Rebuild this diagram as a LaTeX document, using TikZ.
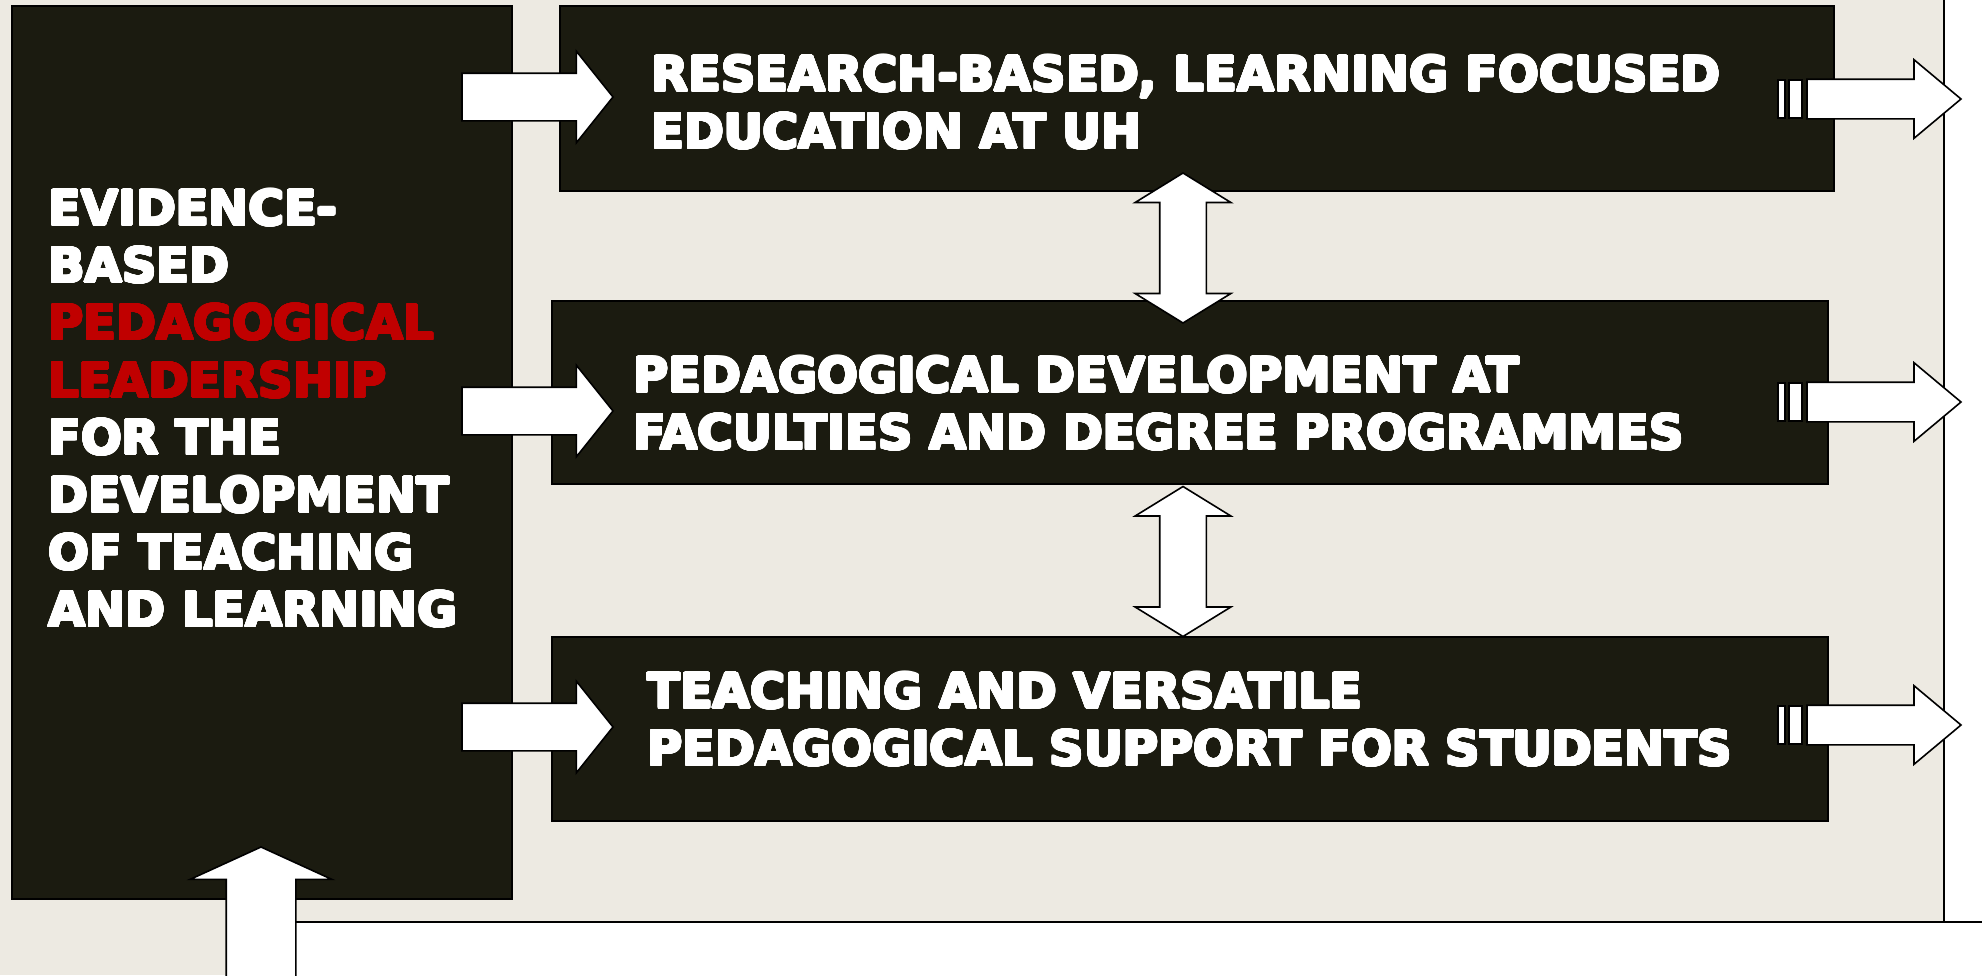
\documentclass[tikz,border=0pt]{standalone}
\usepackage{fontspec}
\usepackage{contour}
\setmainfont{DejaVu Sans}
\usetikzlibrary{shapes.arrows,positioning}

\definecolor{paper}{RGB}{237,234,226}
\definecolor{ink}{RGB}{27,27,16}
\definecolor{crimson}{RGB}{192,0,0}

% heavier lettering: bold face with a thin contour of its own colour
\contourlength{1.1pt}
\contournumber{24}
\newcommand\heavy[2][white]{\textcolor{#1}{\contour{#1}{#2}}}

\begin{document}
\begin{tikzpicture}[x=1pt,y=-1pt,
  panel/.style={rectangle,draw=black,line width=1.5pt,fill=ink,inner sep=0pt},
  boxtext/.style={anchor=north west,inner sep=0pt,align=left,text=white,
    font=\bfseries\fontsize{48}{57.4}\selectfont},
  blockarrow/.style={draw=black,fill=white,line width=1.6pt,inner sep=0pt,outer sep=0pt},
  feed/.style={blockarrow,single arrow,inner ysep=23pt,minimum height=151pt,
    single arrow head extend=22pt,single arrow tip angle=102.7,anchor=tip},
  outflow/.style={blockarrow,single arrow,inner ysep=19pt,minimum height=154pt,
    single arrow head extend=19.5pt,single arrow tip angle=79.8,anchor=tip},
  link/.style={blockarrow,double arrow,rotate=90,inner ysep=22.5pt,minimum height=150pt,
    double arrow head extend=24.5pt,double arrow tip angle=116.7},
  rise/.style={blockarrow,single arrow,rotate=90,inner ysep=34pt,minimum height=142pt,
    single arrow head extend=36pt,single arrow tip angle=130.9,anchor=tip},
  sheet/.style={draw=black,line width=1.5pt,fill=white},
  bar/.style={draw=black,line width=1.2pt,fill=white}
]
\useasboundingbox (0,0) rectangle (1982,975);
\fill[paper] (0,0) rectangle (1982,975);

% white margin along the right and the bottom
\draw[sheet] (1944,-5) rectangle (1990,922);
\draw[sheet] (295,922) rectangle (1990,985);

% the boxes
\node[panel,minimum width=500pt,minimum height=893pt] (lead) at (262,452.5) {};
\node[panel,minimum width=1274pt,minimum height=185pt] (research) at (1197,98.5) {};
\node[panel,minimum width=1276pt,minimum height=183pt] (faculty) at (1190,392.5) {};
\node[panel,minimum width=1276pt,minimum height=184pt] (support) at (1190,729) {};

\node[boxtext] (leadtext) at ([shift={(37,184)}]lead.north west)
  {\heavy{EVIDENCE-}\\\heavy{BASED}\\\heavy[crimson]{PEDAGOGICAL}\\\heavy[crimson]{LEADERSHIP}\\
   \heavy{FOR THE}\\\heavy{DEVELOPMENT}\\\heavy{OF TEACHING}\\\heavy{AND LEARNING}};
\node[boxtext] (researchtext) at ([shift={(92,50)}]research.north west)
  {\heavy{RESEARCH-BASED, LEARNING FOCUSED}\\\heavy{EDUCATION AT UH}};
\node[boxtext] (facultytext) at ([shift={(82,56)}]faculty.north west)
  {\heavy{PEDAGOGICAL DEVELOPMENT AT}\\\heavy{FACULTIES AND DEGREE PROGRAMMES}};
\node[boxtext] (supporttext) at ([shift={(96,36)}]support.north west)
  {\heavy{TEACHING AND VERSATILE}\\\heavy{PEDAGOGICAL SUPPORT FOR STUDENTS}};

% arrows into and out of the three boxes
\foreach \y [count=\i] in {97,411,727}
  \node[feed] (in\i) at (613,\y) {};
\foreach \y [count=\i] in {99,402,725} {
  \node[outflow] (out\i) at (1961,\y) {};
  \draw[bar] ([shift={(-29,-19)}]out\i.tail) rectangle ([shift={(-22,19)}]out\i.tail);
  \draw[bar] ([shift={(-18,-19)}]out\i.tail) rectangle ([shift={(-5,19)}]out\i.tail);
}

% between the boxes
\node[link] (link1) at (1183,248) {};
\node[link] (link2) at (1183,561.5) {};

\node[rise] (rise) at (261,847) {};
\end{tikzpicture}
\end{document}
